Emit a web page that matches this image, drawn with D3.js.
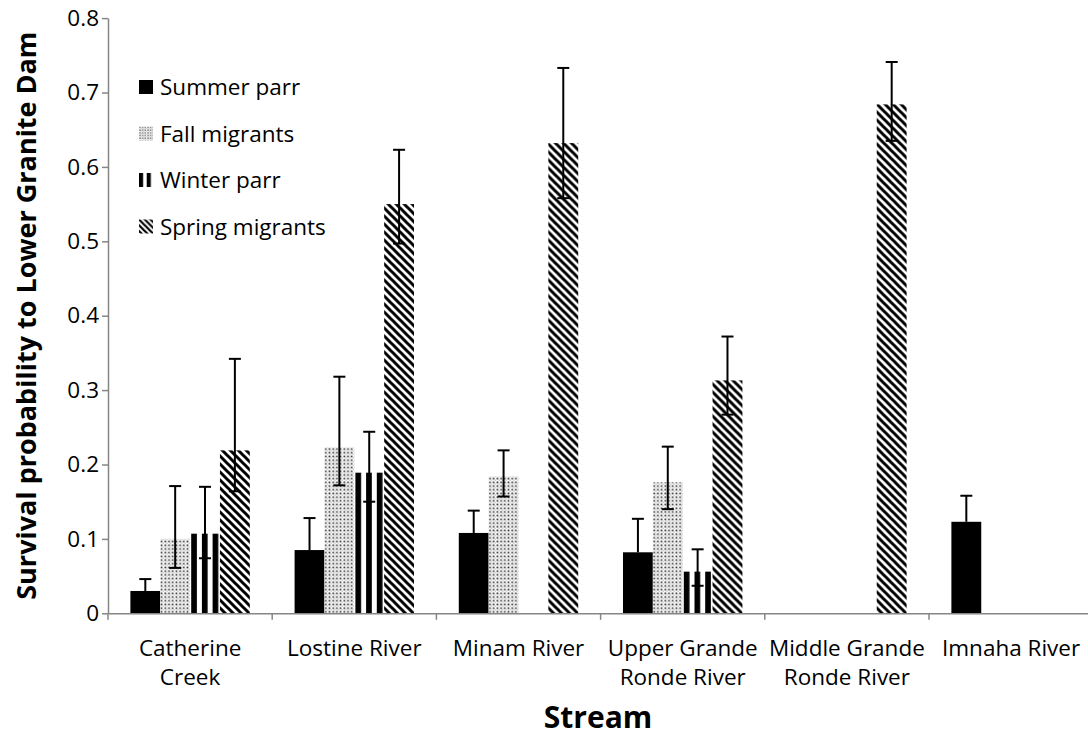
<!DOCTYPE html>
<html>
<head>
<meta charset="utf-8">
<script src="https://cdn.jsdelivr.net/npm/d3@7"></script>
<style>
  html, body { margin: 0; padding: 0; background: #fff; }
  svg { display: block; }
  text { font-family: "Open Sans", "Noto Sans", sans-serif; fill: #000; }
</style>
</head>
<body>
<svg id="chart" width="1088" height="744"></svg>
<script>
// ---- data ----
const categories = ["Catherine Creek", "Lostine River", "Minam River",
  "Upper Grande Ronde River", "Middle Grande Ronde River", "Imnaha River"];
const categoryLines = [["Catherine", "Creek"], ["Lostine River"], ["Minam River"],
  ["Upper Grande", "Ronde River"], ["Middle Grande", "Ronde River"], ["Imnaha River"]];
const seriesNames = ["Summer parr", "Fall migrants", "Winter parr", "Spring migrants"];

// survival estimate and confidence limits (null = no estimate / limit hidden)
const summerParr   = [0.030, 0.085, 0.108, 0.082, null, 0.123];
const summerParrLo = [null, null, null, null, null, null];
const summerParrHi = [0.046, 0.128, 0.138, 0.127, null, 0.158];

const fallMigrants   = [0.100, 0.223, 0.184, 0.176, null, null];
const fallMigrantsLo = [0.061, 0.172, 0.157, 0.140, null, null];
const fallMigrantsHi = [0.171, 0.318, 0.219, 0.224, null, null];

const winterParr   = [0.107, 0.189, null, 0.056, null, null];
const winterParrLo = [0.074, 0.150, null, 0.037, null, null];
const winterParrHi = [0.170, 0.244, null, 0.086, null, null];

const springMigrants   = [0.219, 0.550, 0.632, 0.313, 0.684, null];
const springMigrantsLo = [0.164, 0.497, 0.558, 0.267, 0.635, null];
const springMigrantsHi = [0.342, 0.623, 0.733, 0.372, 0.741, null];

const yTicks = [0, 0.1, 0.2, 0.3, 0.4, 0.5, 0.6, 0.7, 0.8];
const yTickLabels = ["0", "0.1", "0.2", "0.3", "0.4", "0.5", "0.6", "0.7", "0.8"];

const series = [
  { name: seriesNames[0], fill: "solid",   values: summerParr,     lo: summerParrLo,     hi: summerParrHi },
  { name: seriesNames[1], fill: "dots",    values: fallMigrants,   lo: fallMigrantsLo,   hi: fallMigrantsHi },
  { name: seriesNames[2], fill: "vstripe", values: winterParr,     lo: winterParrLo,     hi: winterParrHi },
  { name: seriesNames[3], fill: "diag",    values: springMigrants, lo: springMigrantsLo, hi: springMigrantsHi }
];

// ---- layout ----
const svg = d3.select("#chart");
const axisColor = "#868686";
const fontSize = 22.5;

const plotLeft = 108, plotBottom = 613.3, plotTop = 18.1, bandW = 164.2;
const x = d3.scaleBand().domain(categories)
  .range([plotLeft, plotLeft + bandW * categories.length]).padding(0);
const barW = x.bandwidth() / 5.5;          // gap width 150%
const xs = d3.scaleBand().domain(seriesNames).range([0.75 * barW, 4.75 * barW]).padding(0);
const y = d3.scaleLinear().domain([0, 0.8]).range([plotBottom, plotTop]);

const defs = svg.append("defs");

// fill patterns, anchored at a given origin
function makePattern(id, type, ox, oy, s) {
  s = s || 1;
  if (type === "dots") {
    const t = 3.7 * s;
    const p = defs.append("pattern").attr("id", id).attr("patternUnits", "userSpaceOnUse")
      .attr("x", ox).attr("y", oy).attr("width", t).attr("height", t);
    p.append("rect").attr("width", t).attr("height", t).attr("fill", "#fff");
    p.append("rect").attr("x", 0.5 * s).attr("y", 0.5 * s).attr("width", 1.7 * s).attr("height", 1.7 * s).attr("fill", "#2e2e2e");
    p.append("rect").attr("x", 2.4 * s).attr("y", 2.4 * s).attr("width", 1.1 * s).attr("height", 1.1 * s).attr("fill", "#a8a8a8");
  } else if (type === "vstripe") {
    const pw = 10.7 * s, bk = 5.7 * s;
    const p = defs.append("pattern").attr("id", id).attr("patternUnits", "userSpaceOnUse")
      .attr("x", ox).attr("y", oy).attr("width", pw).attr("height", 10);
    p.append("rect").attr("width", pw).attr("height", 10).attr("fill", "#fff");
    p.append("rect").attr("width", bk).attr("height", 10).attr("fill", "#000");
  } else if (type === "diag") {
    const t = 8 * s;
    const p = defs.append("pattern").attr("id", id).attr("patternUnits", "userSpaceOnUse")
      .attr("x", ox).attr("y", oy).attr("width", t).attr("height", t);
    p.append("rect").attr("width", t).attr("height", t).attr("fill", "#fff");
    p.append("path")
      .attr("d", `M${-t / 4},${-t / 4}L${t * 1.25},${t * 1.25}M${-t / 4},${t * 0.75}L${t / 4},${t * 1.25}M${t * 0.75},${-t / 4}L${t * 1.25},${t / 4}`)
      .attr("stroke", "#000").attr("stroke-width", 3.0 * s).attr("fill", "none");
  }
}

function fillFor(type, id, ox, oy, s) {
  if (type === "solid") return "#000";
  makePattern(id, type, ox, oy, s);
  return `url(#${id})`;
}

// ---- bars ----
const bars = [];
series.forEach((s, si) => {
  categories.forEach((c, ci) => {
    const v = s.values[ci];
    if (v == null) return;
    bars.push({ s, si, ci, c, v, lo: s.lo[ci], hi: s.hi[ci], bx: x(c) + xs(s.name) });
  });
});

svg.append("g").selectAll("rect").data(bars).join("rect")
  .attr("x", d => d.bx)
  .attr("y", d => y(d.v))
  .attr("width", xs.bandwidth())
  .attr("height", d => y(0) - y(d.v))
  .attr("fill", d => fillFor(d.s.fill, `p${d.si}-${d.ci}`, d.bx + (d.s.fill === "vstripe" ? 1.1 : 0), 0));

// ---- error bars ----
const eb = svg.append("g").attr("stroke", "#000").attr("stroke-width", 2).attr("fill", "none");
const capHalf = 6;
bars.filter(d => d.hi != null).forEach(d => {
  const cx = d.bx + xs.bandwidth() / 2;
  const lowV = d.lo != null ? d.lo : d.v;
  eb.append("line").attr("x1", cx).attr("x2", cx).attr("y1", y(lowV)).attr("y2", y(d.hi));
  eb.append("line").attr("x1", cx - capHalf).attr("x2", cx + capHalf).attr("y1", y(d.hi)).attr("y2", y(d.hi));
  if (d.lo != null)
    eb.append("line").attr("x1", cx - capHalf).attr("x2", cx + capHalf).attr("y1", y(d.lo)).attr("y2", y(d.lo));
});

// ---- axes ----
const yAxis = svg.append("g").attr("transform", `translate(${plotLeft},0)`)
  .call(d3.axisLeft(y).tickValues(yTicks).tickFormat((d, i) => yTickLabels[i])
    .tickSizeInner(6).tickSizeOuter(0).tickPadding(3));
yAxis.selectAll("path, line").attr("stroke", axisColor).attr("stroke-width", 1.5);
yAxis.selectAll("text").attr("font-size", fontSize).attr("font-family", null).attr("fill", "#000");

const xAxis = svg.append("g").attr("transform", `translate(0,${plotBottom})`)
  .call(d3.axisBottom(x).tickSize(0).tickFormat(""));
xAxis.select(".domain").attr("stroke", axisColor).attr("stroke-width", 1.5);
xAxis.selectAll(".tick").remove();

const boundaries = categories.map(c => x(c)).concat([x(categories[categories.length - 1]) + x.bandwidth()]);
svg.append("g").selectAll("line").data(boundaries).join("line")
  .attr("x1", d => d).attr("x2", d => d)
  .attr("y1", plotBottom).attr("y2", plotBottom + 6.5)
  .attr("stroke", axisColor).attr("stroke-width", 1.5);

// category labels (wrapped)
const catG = svg.append("g").attr("font-size", fontSize).attr("text-anchor", "middle");
categories.forEach((c, ci) => {
  const t = catG.append("text").attr("x", x(c) + x.bandwidth() / 2).attr("y", 656);
  categoryLines[ci].forEach((line, li) => {
    t.append("tspan").attr("x", x(c) + x.bandwidth() / 2).attr("dy", li === 0 ? 0 : 29).text(line);
  });
});

// axis titles
svg.append("text").attr("x", (plotLeft + 1088) / 2).attr("y", 728)
  .attr("text-anchor", "middle").attr("font-size", 30).attr("font-weight", "bold").text("Stream");

svg.append("text")
  .attr("transform", `translate(36,${(plotTop + plotBottom) / 2}) rotate(-90)`)
  .attr("text-anchor", "middle").attr("font-size", 27).attr("font-weight", "bold")
  .text("Survival probability to Lower Granite Dam");

// ---- legend ----
const legend = svg.append("g");
series.forEach((s, i) => {
  const cy = 87.5 + i * 46.5;
  const mx = 139, my = cy - 7.5;
  legend.append("rect").attr("x", mx).attr("y", my).attr("width", 14).attr("height", 14)
    .attr("fill", fillFor(s.fill, `leg${i}`, mx, my, 0.72));
  legend.append("text").attr("x", 160).attr("y", cy + 7.5).attr("font-size", fontSize).text(s.name);
});
</script>
</body>
</html>
